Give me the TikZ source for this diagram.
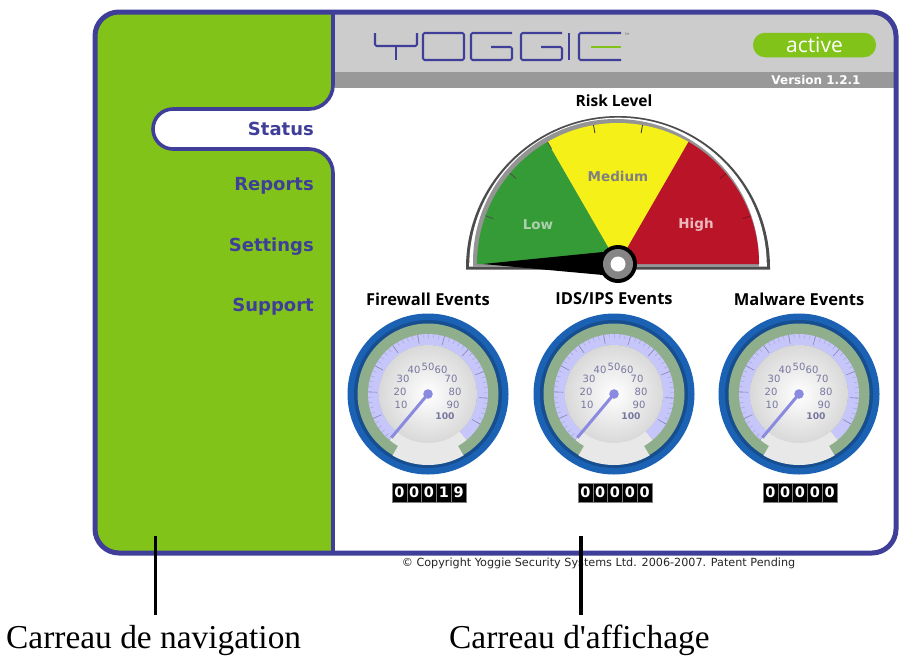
\documentclass[tikz,border=0pt]{standalone}
\usepackage{fontspec}
\setmainfont{Liberation Serif}
\newfontfamily\labelfont{Liberation Serif}
\newfontfamily\uifont{DejaVu Sans}
\newfontfamily\headfont{Open Sans}
\usetikzlibrary{shadings}
\definecolor{framecol}{HTML}{3F3F9A}
\definecolor{panelgreen}{HTML}{82C31A}
\definecolor{headgray}{HTML}{CCCCCC}
\definecolor{bargray}{HTML}{999999}
\definecolor{lowgreen}{HTML}{359B37}
\definecolor{medyellow}{HTML}{F5F018}
\definecolor{highred}{HTML}{B91427}
\definecolor{ringblue}{HTML}{1B62B4}
\definecolor{ringgreen}{HTML}{8FAF8C}
\definecolor{lav}{HTML}{C6C6FA}
\definecolor{numcol}{HTML}{77779F}
\definecolor{needlecol}{HTML}{8A8AE0}
\tikzset{
  navtext/.style={font=\uifont\bfseries\fontsize{18}{20}\selectfont,text=framecol,anchor=base east,inner sep=0pt},
  headtext/.style={font=\headfont\bfseries\fontsize{16.5}{20}\selectfont,text=black,inner sep=0pt},
  zonetext/.style={font=\uifont\bfseries\fontsize{13.5}{16}\selectfont,inner sep=0pt},
  numtext/.style={font=\uifont\fontsize{10}{11}\selectfont,text=numcol,inner sep=0pt},
  digitcell/.style={font=\uifont\bfseries\fontsize{14.5}{16}\selectfont,text=white,fill=black,draw=black!50,line width=.4pt,minimum width=14.8pt,minimum height=19pt,inner sep=0pt},
  logoline/.style={draw=framecol,line width=2.1pt,line join=round,rounded corners=1.5pt},
  calloutline/.style={draw=black,line width=3.5pt},
  labeltext/.style={font=\labelfont\fontsize{33.4}{36}\selectfont,anchor=base west,inner sep=0pt,text=black},
}
\newcommand{\eventgauge}[8]{%
  % #1 prefix, #2 cx, #3 title, #4-#8 digits
  \node[headtext] (#1title) at (#2,299) {#3};
  \begin{scope}[shift={(#2,394)},y=1pt]
    \fill[ringblue] (0,0) circle (80.5);
    \fill[ringblue!80!black] (0,0) circle (74);
    \fill[ringgreen] (0,0) circle (70.5);
    \draw[lav,line width=11pt] (230:54.5) arc (230:-50:54.5);
    \foreach \i in {0,2,...,100}{\draw[numcol!45!lav,line width=.4pt] ({230-2.6*\i}:56) -- ({230-2.6*\i}:60);}
    \foreach \i in {0,10,...,100}{\draw[numcol!80!lav,line width=.6pt] ({230-2.6*\i}:51) -- ({230-2.6*\i}:60);}
    \fill[black!9] (0,0) -- (230:60) arc (230:240:60) -- (240:71) arc (240:300:71) -- (300:60) arc (300:310:60) -- cycle;
    \shade[inner color=white,outer color=black!15] (0,0) circle (49);
    \node[numtext] (#1n10) at (-27,-11) {10};
    \node[numtext] (#1n20) at (-28,2) {20};
    \node[numtext] (#1n30) at (-25,15) {30};
    \node[numtext] (#1n40) at (-14,24) {40};
    \node[numtext] (#1n50) at (0,27) {50};
    \node[numtext] (#1n60) at (13,24) {60};
    \node[numtext] (#1n70) at (23,15) {70};
    \node[numtext] (#1n80) at (27,2) {80};
    \node[numtext] (#1n90) at (25,-11) {90};
    \node[numtext,font=\uifont\bfseries\fontsize{9.2}{11}\selectfont] (#1n100) at (17,-22) {100};
    \draw[needlecol,line width=3pt] (0,0) -- (230:57);
    \fill[needlecol] (0,0) circle (4.8);
  \end{scope}
  \foreach \d/\v in {0/#4,1/#5,2/#6,3/#7,4/#8}{
    \node[digitcell] (#1d\d) at ({#2-28.6+14.8*\d},492.5) {\v};
  }
}
\begin{document}
\begin{tikzpicture}[x=1pt,y=-1pt]
\useasboundingbox (0,0) rectangle (901,665);
\fill[white] (0,0) rectangle (901,665);
% window
\begin{scope}
  \clip[rounded corners=24pt] (95,12) rectangle (896,553);
  \fill[white] (95,12) rectangle (896,553);
  \fill[headgray] (333,12) rectangle (896,72);
  \fill[bargray] (333,72) rectangle (896,88);
  \fill[panelgreen] (95,12) -- (333,12) [rounded corners=24pt] -- (333,109) [rounded corners=20pt] -- (153,109) -- (153,149) [rounded corners=24pt] -- (333,149) [sharp corners] -- (333,553) -- (95,553) -- cycle;
\end{scope}
\draw[framecol,line width=3.6pt] (333,12) [rounded corners=24pt] -- (333,109) [rounded corners=20pt] -- (153,109) -- (153,149) [rounded corners=24pt] -- (333,149) [sharp corners] -- (333,553);
\draw[framecol,line width=5pt,rounded corners=24pt] (95,12) rectangle (896,553);
% logo
\draw[logoline] (375,33) -- (375,46) -- (417,46) -- (417,33);
\draw[logoline] (396,46) -- (396,60);
\draw[logoline] (423,33) rectangle (464,60);
\draw[logoline] (512,33) -- (471,33) -- (471,60) -- (512,60) -- (512,47) -- (491,47);
\draw[logoline] (562,33) -- (521,33) -- (521,60) -- (562,60) -- (562,47) -- (541,47);
\draw[logoline,rounded corners=0pt] (569,33) -- (569,60);
\draw[logoline] (621,33) -- (579,33) -- (579,60) -- (621,60);
\draw[draw=panelgreen,line width=2.1pt] (591,47) -- (621,47);
\node[font=\uifont\fontsize{3}{3}\selectfont,text=black!60,inner sep=0pt] (tm) at (627,34) {TM};
% status pill
\node[fill=panelgreen,rounded corners=12pt,minimum width=123pt,minimum height=24.5pt,inner sep=0pt,text=white,font=\headfont\fontsize{21}{22}\selectfont] (active) at (814.5,45) {active};
\node[font=\uifont\bfseries\fontsize{12}{13}\selectfont,text=white,inner sep=0pt] (version) at (816,80) {Version 1.2.1};
% nav
\node[navtext] (status) at (314,135.5) {Status};
\node[navtext] (reports) at (314,190.5) {Reports};
\node[navtext] (settings) at (314,251.5) {Settings};
\node[navtext] (support) at (314,311.5) {Support};
% risk gauge
\node[headtext,font=\headfont\bfseries\fontsize{15.5}{18}\selectfont] (risk) at (614,101) {Risk Level};
\begin{scope}[shift={(618,268)},y=1pt]
  \fill[black!70] (-152,0) arc (180:0:152) -- (152,-1.5) -- (-152,-1.5) -- cycle;
  \fill[white] (-148.8,1.5) arc (180:0:148.8) -- cycle;
  \begin{scope}
    \clip (-148.8,1.5) arc (180:0:148.8) -- cycle;
    \fill[black!42] (-2,6) circle (143);
    \fill[black!42] (-145,1.5) rectangle (141,6);
  \end{scope}
\end{scope}
\begin{scope}[shift={(618,264)},y=1pt]
  \fill[lowgreen] (0,0) -- (-141,0) arc (180:120:141) -- cycle;
  \fill[medyellow] (0,0) -- (120:141) arc (120:60:141) -- cycle;
  \fill[highred] (0,0) -- (60:141) arc (60:0:141) -- cycle;
  \foreach \a/\c in {160/black!70,140/black!70,120/black!70,100/black!80,80/black!80,40/highred!70!black,20/highred!70!black}{
    \draw[\c,line width=.8pt] (\a:141) -- (\a:133);
  }
  \fill[black] (-135,0) -- (-15,12) -- (-15,-11) -- cycle;
  \fill[black] (0,0) circle (19);
  \fill[black!48] (0,0) circle (15);
  \fill[white] (0,0) circle (7.5);
\end{scope}
\node[zonetext,text=black!10!lowgreen!40!white] (low) at (538,225) {Low};
\node[zonetext,text=black!50] (medium) at (618,176) {Medium};
\node[zonetext,text=highred!30!white] (high) at (696,225) {High};
% gauges
\eventgauge{fw}{428}{Firewall Events}{0}{0}{0}{1}{9}
\eventgauge{ids}{614}{IDS/IPS Events}{0}{0}{0}{0}{0}
\eventgauge{mal}{799}{Malware Events}{0}{0}{0}{0}{0}
% footer
\node[font=\uifont\fontsize{11.2}{13}\selectfont,text=black!85,inner sep=0pt] (copy) at (598.5,563) {© Copyright Yoggie Security Systems Ltd. 2006-2007. Patent Pending};
% callouts
\node[labeltext] (navlabel) at (6,648) {Carreau de navigation};
\node[labeltext] (displabel) at (449,648) {Carreau d'affichage};
\coordinate (navtop) at (155.5,536);
\coordinate (navend) at (155.5,615);
\coordinate (disptop) at (581,536);
\coordinate (dispend) at (581,615);
\draw[calloutline] (navtop) -- (navend);
\draw[calloutline] (disptop) -- (dispend);
\end{tikzpicture}
\end{document}
